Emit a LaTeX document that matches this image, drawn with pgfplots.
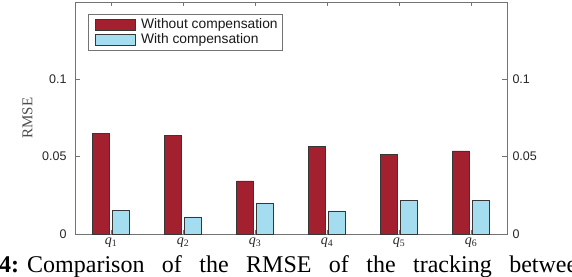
\documentclass[border=0pt]{standalone}
\usepackage{pgfplots}
\pgfplotsset{compat=1.18}
\usepackage{fontspec}
\setmainfont{Liberation Serif}
\newfontfamily\arial{Liberation Sans}
\newcommand\legfont{\arial\fontsize{13.8}{15}\selectfont}
\definecolor{barred}{RGB}{163,33,46}
\definecolor{barblue}{RGB}{165,221,240}
\definecolor{axgray}{RGB}{115,115,115}
\definecolor{edgegray}{RGB}{55,55,55}
\pgfplotsset{
  mybarleg/.style={legend image code/.code={\path (0pt,0pt) (48pt,0pt);\draw[##1,draw=edgegray,line width=0.6pt] (4pt,-5.5pt) rectangle (44pt,5.5pt);}},
}
\begin{document}
\begin{tikzpicture}
\useasboundingbox (0pt,0pt) rectangle (572pt,276pt);
\clip (0pt,0pt) rectangle (572pt,276pt);
\begin{axis}[
  at={(75pt,42pt)}, anchor=south west,
  scale only axis, width=432pt, height=232pt,
  xmin=0.5, xmax=6.5, ymin=0, ymax=0.15,
  ybar=3pt, bar width=17pt,
  xtick={1,2,3,4,5,6},
  xticklabels={\textit{q}\textsubscript{1},\textit{q}\textsubscript{2},\textit{q}\textsubscript{3},\textit{q}\textsubscript{4},\textit{q}\textsubscript{5},\textit{q}\textsubscript{6}},
  ytick={0,0.05,0.1}, yticklabels={0,0.05,0.1},
  xtick pos=both, xticklabel pos=lower,
  ytick pos=both, yticklabel pos=left,
  tick align=inside, major tick length=4.5pt,
  tick style={axgray, line width=0.6pt},
  axis line style={axgray, line width=0.8pt},
  /pgf/number format/assume math mode=true,
  yticklabel style={font=\arial\fontsize{12.5}{14}\selectfont, text=black!85, xshift=-5pt},
  xticklabel style={font=\fontsize{14}{16}\selectfont, text=black!85},
  ylabel={RMSE},
  every axis y label/.style={at={(axis description cs:-0.110,0.5)}, rotate=90, anchor=center, font=\fontsize{15}{17}\selectfont, text=black!70},
  legend style={at={(axis description cs:0.0294,0.947)}, anchor=north west, draw=axgray, line width=0.6pt,
    font=\legfont, text=black!90, inner sep=3pt, row sep=1pt,
    nodes={inner sep=1.5pt, text height=9pt, text depth=2.3pt}},
  legend cell align=left,
]
\addplot[fill=barred, draw=edgegray, line width=0.6pt, mybarleg] coordinates {(1,0.0653) (2,0.0638) (3,0.0343) (4,0.0565) (5,0.0517) (6,0.0537)};
\addplot[fill=barblue, draw=edgegray, line width=0.6pt, mybarleg] coordinates {(1,0.0155) (2,0.0110) (3,0.0196) (4,0.0149) (5,0.0216) (6,0.0218)};
\legend{{\legfont Without compensation\hspace{20pt}}, {\legfont With compensation}}
\end{axis}
\begin{axis}[
  at={(75pt,42pt)}, anchor=south west,
  scale only axis, width=432pt, height=232pt,
  xmin=0.5, xmax=6.5, ymin=0, ymax=0.15,
  axis x line=none, axis y line*=right,
  y axis line style={draw=none},
  ytick={0,0.05,0.1}, yticklabels={0,0.05,0.1},
  major tick length=0pt,
  /pgf/number format/assume math mode=true,
  yticklabel style={font=\arial\fontsize{12.5}{14}\selectfont, text=black!85, xshift=2pt},
]
\addplot[draw=none] coordinates {(1,0)};
\end{axis}
\node[anchor=base west, inner sep=0pt] at (-1pt,3.3pt) {\makebox[590pt][s]{\fontsize{24}{28}\selectfont\textbf{4:}\hspace{8pt}Comparison of the RMSE of the tracking between}};
\end{tikzpicture}
\end{document}
